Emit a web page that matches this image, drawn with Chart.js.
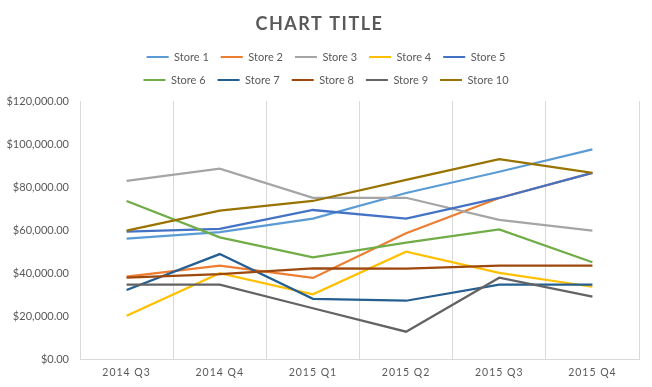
<!DOCTYPE html>
<html>
<head>
<meta charset="utf-8">
<title>Chart Title</title>
<script src="https://cdn.jsdelivr.net/npm/chart.js@4.4.0/dist/chart.umd.min.js"></script>
<style>
  html, body { margin: 0; padding: 0; background: #fff; }
  #wrap { width: 652px; height: 387px; position: relative; }
</style>
</head>
<body>
<div id="wrap"><canvas id="chart"></canvas></div>
<script>
// quarterly sales per store
var quarters = ['2014 Q3', '2014 Q4', '2015 Q1', '2015 Q2', '2015 Q3', '2015 Q4'];

var store1 = [56000, 59000, 65300, 77200, 87100, 97500];
var store2 = [38300, 43400, 37700, 58500, 74900, 86600];
var store3 = [82800, 88500, 75000, 75000, 64700, 59700];
var store4 = [20100, 39900, 30100, 49900, 40100, 33600];
var store5 = [59200, 60500, 69300, 65300, 74900, 86600];
var store6 = [73500, 56600, 47300, 54100, 60300, 45000];
var store7 = [32100, 48800, 28000, 27100, 34600, 34600];
var store8 = [37800, 39500, 42200, 42000, 43400, 43400];
var store9 = [34600, 34600, 23600, 12700, 37800, 29000];
var store10 = [59700, 69000, 73500, 83300, 93000, 86600];

var storeNames = ['Store 1', 'Store 2', 'Store 3', 'Store 4', 'Store 5',
                  'Store 6', 'Store 7', 'Store 8', 'Store 9', 'Store 10'];
var storeData = [store1, store2, store3, store4, store5, store6, store7, store8, store9, store10];

var yMin = 0, yMax = 120000, yStep = 20000;

// office theme colours
var storeColors = ['#5B9BD5', '#ED7D31', '#A5A5A5', '#FFC000', '#4472C4',
                   '#70AD47', '#255E91', '#9E480E', '#636363', '#997300'];

var textGrey = '#595959';
var lineGrey = '#D9D9D9';
var fontFam = 'Lato, "Liberation Sans", sans-serif';

var datasets = storeNames.map(function (name, i) {
  return {
    label: name,
    data: storeData[i],
    borderColor: storeColors[i],
    backgroundColor: storeColors[i],
    borderWidth: 2.25,
    pointRadius: 0,
    pointHoverRadius: 0,
    tension: 0,
    fill: false,
    order: storeNames.length - i // later series on top, like excel
  };
});

function money(v) {
  return '$' + Number(v).toLocaleString('en-US', { minimumFractionDigits: 2, maximumFractionDigits: 2 });
}

// legend in two rows of five, letter spacing on title and quarter labels
var tweaks = {
  id: 'tweaks',
  afterInit: function (chart) {
    var lg = chart.legend;
    var upd = lg.update;
    lg.update = function (w, h, m) {
      upd.call(this, 410, h, m);
      this.height += 5.5;
    };
  },
  afterLayout: function (chart) {
    var lg = chart.legend;
    lg.left = 121;
    lg.right = 531;
    lg.width = 410;
    if (!chart.$spaced) {
      chart.$spaced = true;
      var t = chart.titleBlock;
      var tDraw = t.draw;
      t.draw = function () {
        var c = this.ctx;
        c.save();
        c.letterSpacing = '1.5px';
        tDraw.apply(this, arguments);
        c.restore();
      };
      var xs = chart.scales.x;
      var xDraw = xs.drawLabels;
      xs.drawLabels = function (area) {
        var c = this.ctx;
        c.save();
        c.letterSpacing = '1px';
        xDraw.call(this, area);
        c.restore();
      };
    }
  }
};

var ctx = document.getElementById('chart').getContext('2d');
var chart = new Chart(ctx, {
  type: 'line',
  data: {
    labels: quarters,
    datasets: datasets
  },
  plugins: [tweaks],
  options: {
    responsive: true,
    maintainAspectRatio: false,
    animation: false,
    events: [],
    layout: { padding: { left: 0, right: 13, top: 0, bottom: 0 } },
    plugins: {
      title: {
        display: true,
        text: 'CHART TITLE',
        color: textGrey,
        font: { family: fontFam, size: 18, weight: 'bold' },
        padding: { top: 13, bottom: 4.9 }
      },
      legend: {
        position: 'top',
        labels: {
          boxWidth: 22,
          boxHeight: 2,
          padding: 12,
          color: textGrey,
          font: { family: fontFam, size: 11 },
          sort: function (a, b) { return a.datasetIndex - b.datasetIndex; },
          generateLabels: function (c) {
            return Chart.defaults.plugins.legend.labels.generateLabels(c).map(function (it) {
              it.lineWidth = 0;
              return it;
            });
          }
        }
      },
      tooltip: { enabled: false }
    },
    scales: {
      x: {
        type: 'category',
        offset: true,
        grid: { offset: true, color: lineGrey, lineWidth: 1, drawTicks: false },
        border: { display: true, color: lineGrey, width: 1 },
        ticks: {
          color: textGrey,
          font: { family: fontFam, size: 10.5 },
          padding: 7,
          maxRotation: 0,
          autoSkip: false
        },
        afterFit: function (s) { s.height = 28; }
      },
      y: {
        min: yMin,
        max: yMax,
        grid: { display: false, drawTicks: false },
        border: { display: false },
        ticks: {
          stepSize: yStep,
          color: textGrey,
          font: { family: fontFam, size: 11 },
          padding: 11,
          callback: function (v) { return money(v); }
        },
        afterFit: function (s) { s.width = 80; }
      }
    }
  }
});
</script>
</body>
</html>
